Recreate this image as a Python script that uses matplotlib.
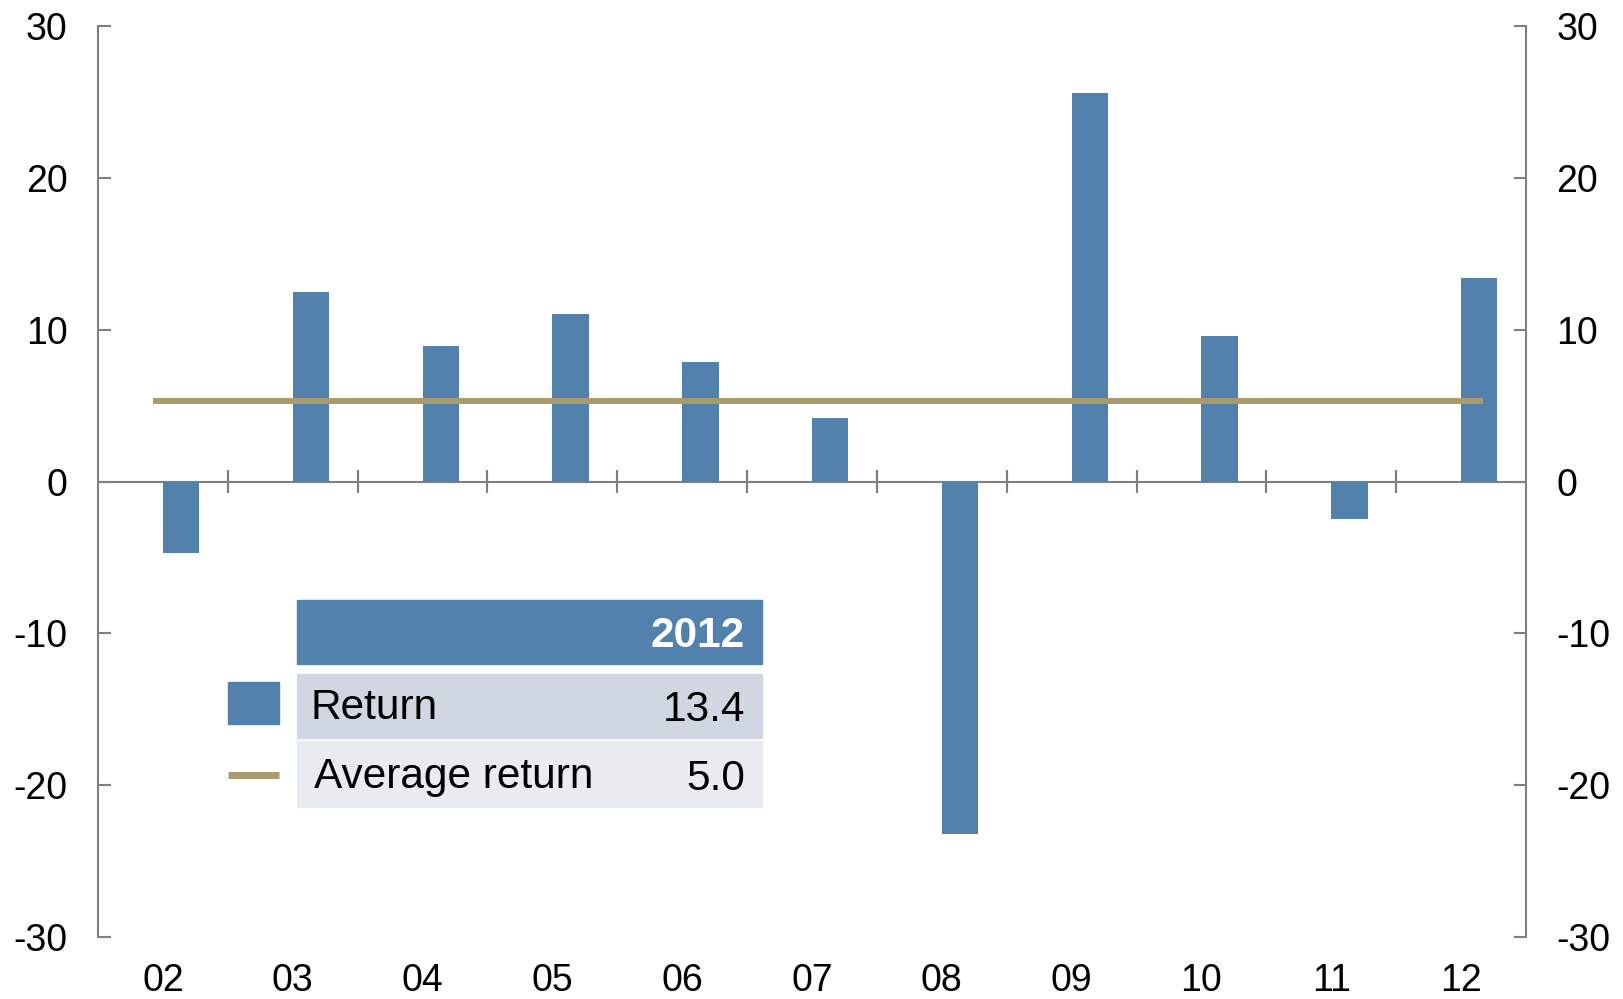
import matplotlib
matplotlib.use("Agg")
import matplotlib.pyplot as plt
from matplotlib.patches import Rectangle
from matplotlib.lines import Line2D
from matplotlib.ticker import FuncFormatter

plt.rcParams['font.family'] = ['Liberation Sans', 'DejaVu Sans']

categories = ["02", "03", "04", "05", "06", "07", "08", "09", "10", "11", "12"]
returns = [-4.7, 12.5, 8.9, 11.0, 7.9, 4.2, -23.2, 25.6, 9.6, -2.5, 13.4]
average_line = 5.3
legend_year = "2012"
legend_return = "13.4"
legend_average = "5.0"
y_ticks = [-30, -20, -10, 0, 10, 20, 30]

BLUE = "#5381AE"
GOLD = "#A99B6E"
GREY = "#808080"
ROW1 = "#D0D7E3"
ROW2 = "#E8EBF0"

W, H = 1623, 999
fig = plt.figure(figsize=(W / 100, H / 100), dpi=100)
L, R, T, B = 98, 1526, 26, 937
ax = fig.add_axes([L / W, 1 - B / H, (R - L) / W, (B - T) / H])

x = list(range(len(categories)))
ax.bar(x, returns, width=0.28, align='edge', color=BLUE, zorder=2)
ax.hlines(average_line, -0.08, len(categories) - 1 + 0.17, color=GOLD, lw=4.3, zorder=3)

ax.set_xlim(-0.5, len(categories) - 0.5)
ax.set_ylim(-30, 30)

for s in ['top', 'bottom']:
    ax.spines[s].set_visible(False)
for s in ['left', 'right']:
    ax.spines[s].set_color(GREY)
    ax.spines[s].set_linewidth(1.5)

ax.set_yticks(y_ticks)
fmt = FuncFormatter(lambda v, p: f"{int(v)}")
ax.yaxis.set_major_formatter(fmt)
ax.tick_params(axis='y', direction='in', length=9, width=1.5, color=GREY,
               labelsize=27, pad=22, left=True, right=True, labelleft=True, labelright=True)

ax.set_xticks(x)
ax.set_xticklabels(categories)
ax.tick_params(axis='x', length=0, labelsize=27, pad=19)

# zero axis with category boundary ticks
ax.axhline(0, color=GREY, lw=1.5, zorder=1)
sec = ax.secondary_xaxis(0.5)
sec.set_xticks([i + 0.5 for i in range(len(categories) - 1)])
sec.tick_params(axis='x', which='both', direction='inout', length=16, width=1.5, color=GREY,
                top=True, bottom=True, labeltop=False, labelbottom=False)
for s in sec.spines.values():
    s.set_visible(False)

def fx(px):
    return px / W

def fy(py):
    return 1 - py / H

# legend table
hdr = Rectangle((fx(297), fy(664)), fx(762) - fx(297), fy(600) - fy(664),
                transform=fig.transFigure, color=BLUE, zorder=5)
r1 = Rectangle((fx(297), fy(738)), fx(762) - fx(297), fy(674) - fy(738),
               transform=fig.transFigure, color=ROW1, zorder=5)
r2 = Rectangle((fx(297), fy(807)), fx(762) - fx(297), fy(741) - fy(807),
               transform=fig.transFigure, color=ROW2, zorder=5)
patch = Rectangle((fx(228), fy(724)), fx(279) - fx(228), fy(682) - fy(724),
                  transform=fig.transFigure, color=BLUE, zorder=5)
for p in (hdr, r1, r2, patch):
    fig.patches.append(p)
fig.lines.append(Line2D([fx(228), fx(279)], [fy(774.5), fy(774.5)],
                        transform=fig.transFigure, color=GOLD, lw=5, solid_capstyle='butt'))

fs = 30.5
fig.text(fx(745), fy(636), legend_year, color='white', fontsize=fs, fontweight='bold',
         ha='right', va='center', zorder=6)
fig.text(fx(311), fy(708), "Return", color='black', fontsize=fs, ha='left', va='center', zorder=6)
fig.text(fx(745), fy(710), legend_return, color='black', fontsize=fs, ha='right', va='center', zorder=6)
fig.text(fx(314), fy(777), "Average return", color='black', fontsize=fs, ha='left', va='center', zorder=6)
fig.text(fx(745), fy(779), legend_average, color='black', fontsize=fs, ha='right', va='center', zorder=6)

fig.savefig("out.png", dpi=100)
